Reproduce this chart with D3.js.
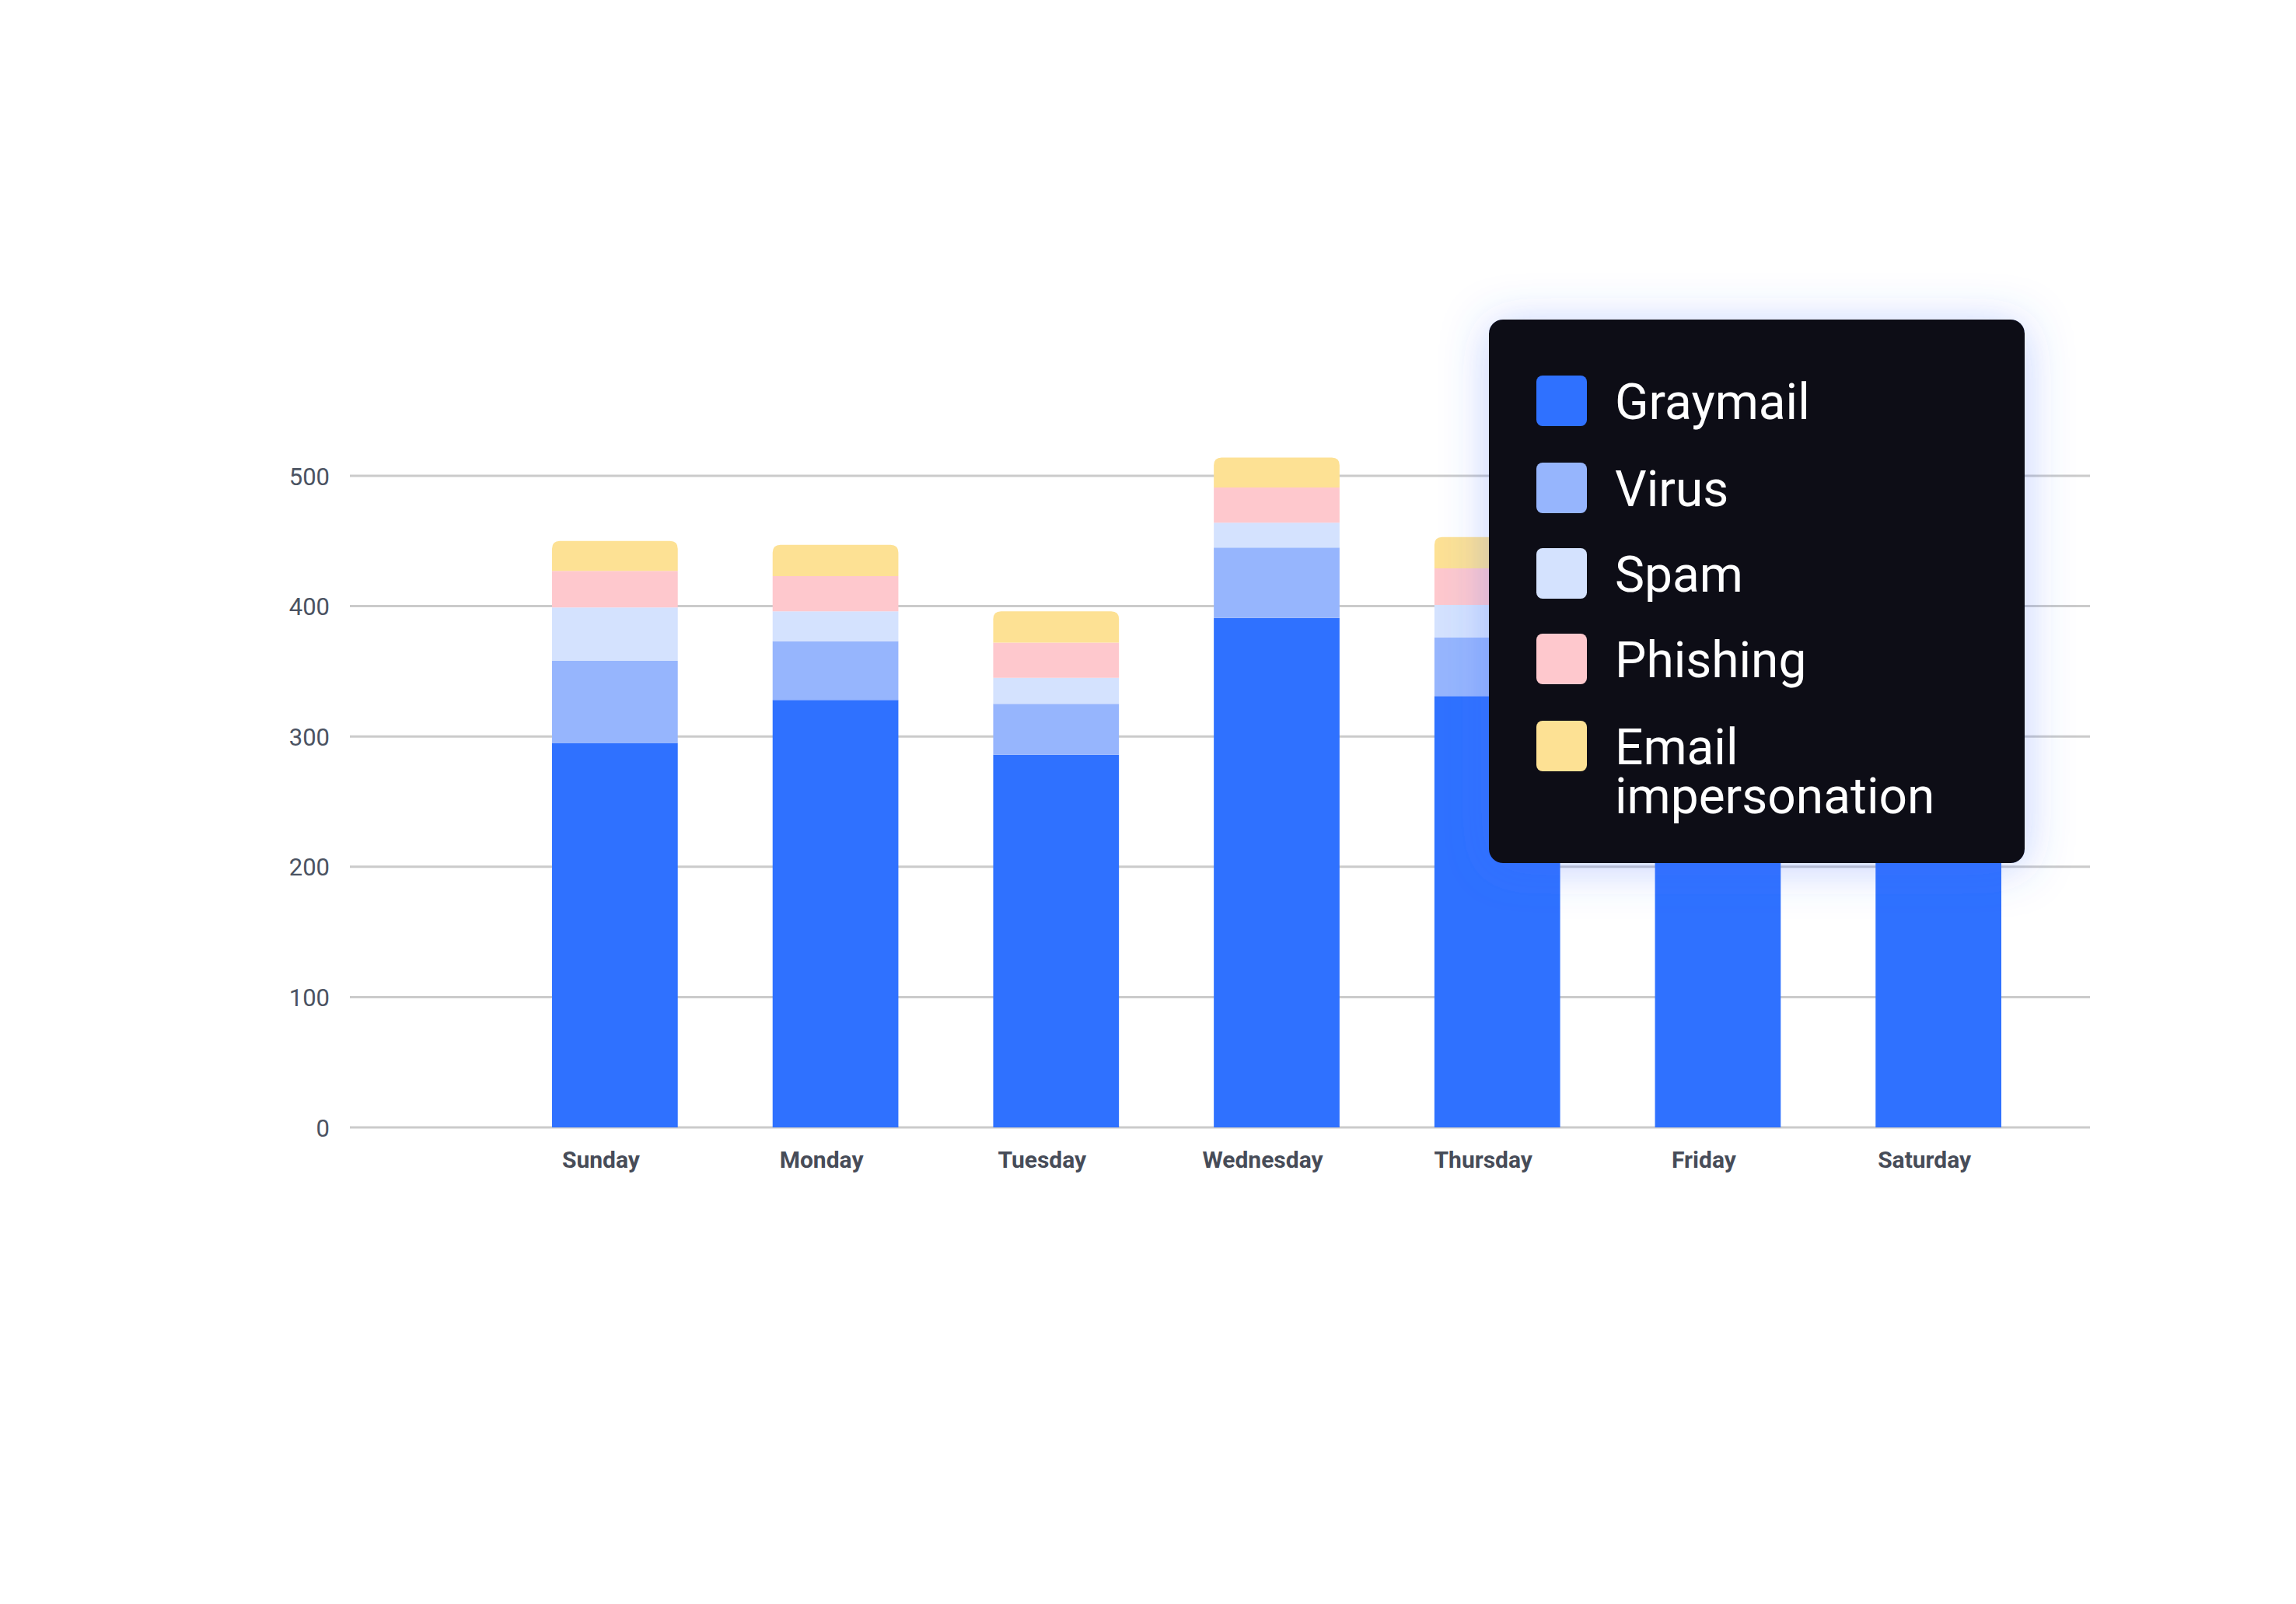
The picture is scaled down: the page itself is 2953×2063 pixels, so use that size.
<!DOCTYPE html>
<html>
<head>
<meta charset="utf-8">
<script src="https://cdn.jsdelivr.net/npm/d3@7/dist/d3.min.js"></script>
<style>
  html, body { margin: 0; padding: 0; background: #ffffff; }
  svg { display: block; }
</style>
</head>
<body>
<script>
const days = ["Sunday", "Monday", "Tuesday", "Wednesday", "Thursday", "Friday", "Saturday"];
const seriesNames = ["Graymail", "Virus", "Spam", "Phishing", "Email impersonation"];
const graymail = [295, 328, 286, 391, 331, 312, 305];
const virus    = [63, 45, 39, 54, 45, 46, 48];
const spam     = [41, 23, 20, 19, 25, 22, 24];
const phishing = [28, 27, 27, 27, 28, 26, 27];
const emailImp = [23, 24, 24, 23, 24, 22, 23];
const yTicks = [0, 100, 200, 300, 400, 500];
const colors = ["#2f71ff", "#96b5fd", "#d4e2fe", "#fec8cd", "#fde194"];

const W = 2953, H = 2063;
const svg = d3.select("body").append("svg").attr("width", W).attr("height", H);

const defs = svg.append("defs");
const f = defs.append("filter").attr("id", "glow")
  .attr("x", "-30%").attr("y", "-30%").attr("width", "160%").attr("height", "160%");
f.append("feDropShadow").attr("dx", 0).attr("dy", 6).attr("stdDeviation", 30)
  .attr("flood-color", "#3d6bff").attr("flood-opacity", 0.32);

const table = days.map((d, i) => ({
  day: d,
  "Graymail": graymail[i], "Virus": virus[i], "Spam": spam[i],
  "Phishing": phishing[i], "Email impersonation": emailImp[i]
}));
const stacked = d3.stack().keys(seriesNames)(table);

const y = d3.scaleLinear().domain([0, 500]).range([1450, 612]);
const x = d3.scaleBand().domain(days).range([649, 2635]).paddingInner(0.43).paddingOuter(0.215);

// grid
const grid = svg.append("g");
grid.selectAll("line").data(yTicks).join("line")
  .attr("x1", 450).attr("x2", 2688)
  .attr("y1", d => y(d)).attr("y2", d => y(d))
  .attr("stroke", "#cbcbcb").attr("stroke-width", 3);

// y axis labels
const yAxis = svg.append("g").attr("transform", "translate(424,0)")
  .call(d3.axisLeft(y).tickValues(yTicks).tickSize(0).tickPadding(0));
yAxis.select(".domain").remove();
yAxis.selectAll("text")
  .attr("font-family", "Roboto, sans-serif").attr("font-size", 31)
  .attr("fill", "#4b5362").attr("x", 0).attr("dy", "0.36em");

// x axis labels
const xAxis = svg.append("g").attr("transform", "translate(-18,1502)")
  .call(d3.axisBottom(x).tickSize(0).tickPadding(0));
xAxis.select(".domain").remove();
xAxis.selectAll("text")
  .attr("font-family", "Roboto, sans-serif").attr("font-size", 30).attr("font-weight", 700)
  .attr("fill", "#474c58").attr("y", 0).attr("dy", 0);

// bars
function topRounded(x0, y0, w, h, r) {
  r = Math.min(r, h, w / 2);
  return `M${x0},${y0 + h}V${y0 + r}Q${x0},${y0} ${x0 + r},${y0}H${x0 + w - r}Q${x0 + w},${y0} ${x0 + w},${y0 + r}V${y0 + h}Z`;
}
const last = seriesNames.length - 1;
stacked.forEach((s, si) => {
  svg.append("g").attr("fill", colors[si])
    .selectAll("path").data(s).join("path")
    .attr("d", d => {
      const x0 = x(d.data.day), w = x.bandwidth();
      const y0 = y(d[1]), h = y(d[0]) - y(d[1]);
      return si === last ? topRounded(x0, y0, w, h, 10) : `M${x0},${y0}h${w}v${h}h${-w}Z`;
    });
});

// legend
const lg = svg.append("g").attr("transform", "translate(1915,411)");
lg.append("rect").attr("width", 689).attr("height", 699).attr("rx", 18)
  .attr("fill", "#0b0e17").attr("filter", "url(#glow)");
const legendTops = [72, 184, 294, 404, 516];
seriesNames.forEach((name, i) => {
  const g = lg.append("g").attr("transform", `translate(61,${legendTops[i]})`);
  g.append("rect").attr("width", 65).attr("height", 65).attr("rx", 8).attr("fill", colors[i]);
  const t = g.append("text").attr("x", 101).attr("y", 56)
    .attr("font-family", "Roboto, sans-serif").attr("font-size", 64).attr("fill", "#ffffff");
  const parts = name === "Email impersonation" ? ["Email", "impersonation"] : [name];
  parts.forEach((p, k) => t.append("tspan").attr("x", 101).attr("dy", k === 0 ? 0 : 63).text(p));
});
</script>
</body>
</html>
